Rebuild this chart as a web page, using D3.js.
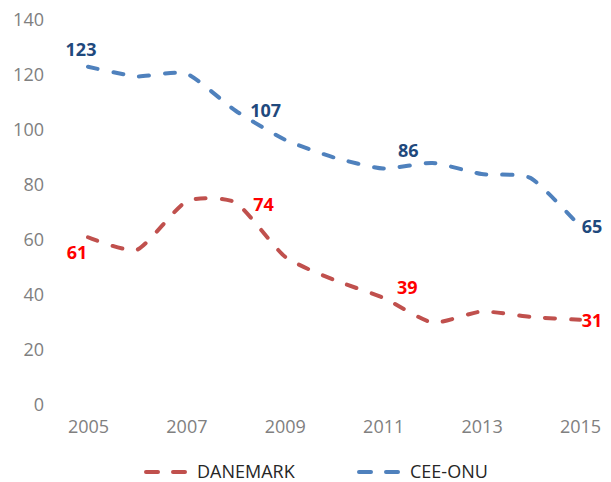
<!DOCTYPE html>
<html>
<head>
<meta charset="utf-8">
<script src="https://cdnjs.cloudflare.com/ajax/libs/d3/7.8.5/d3.min.js"></script>
<style>
  body { margin: 0; background: #fff; }
  svg { font-family: 'Open Sans', sans-serif; }
</style>
</head>
<body>
<div id="content"></div>
<script>
var years = [2005, 2006, 2007, 2008, 2009, 2010, 2011, 2012, 2013, 2014, 2015];
var danemark = [61, 56.5, 74, 73.6, 54, 45.5, 39, 30, 34, 32, 31];
var ceeOnu = [123, 119.5, 120.5, 107, 96.5, 90, 86, 88, 84, 82.5, 65];
var yTicks = [0, 20, 40, 60, 80, 100, 120, 140];
var xTicks = [2005, 2007, 2009, 2011, 2013, 2015];
var labelYears = [2005, 2008, 2011, 2015];

var svg = d3.select("#content").append("svg").attr("width", 611).attr("height", 482);

var x = d3.scaleLinear().domain([2005, 2015]).range([88, 580]),
    y = d3.scaleLinear().domain([0, 140]).range([405, 20]);

var series = [
    {name: "DANEMARK", values: danemark, color: "#C0504D", labelColor: "#FF0000",
     offsets: [[-11, 22], [28, 8], [24, -4], [12, 7]]},
    {name: "CEE-ONU", values: ceeOnu, color: "#4F81BD", labelColor: "#1F497D",
     offsets: [[-7, -11], [30, 6], [25, -12], [12, 7]]}
];

// axes (no lines, only labels)
var yAxis = svg.append("g")
    .attr("transform", "translate(52,0)")
    .call(d3.axisLeft(y).tickValues(yTicks).tickSize(0).tickPadding(8));
var xAxis = svg.append("g")
    .attr("transform", "translate(0,418)")
    .call(d3.axisBottom(x).tickValues(xTicks).tickFormat(d3.format("d")).tickSize(0).tickPadding(2));
svg.selectAll(".domain").remove();
svg.selectAll(".tick text")
    .attr("fill", "#808080")
    .style("font-size", "18px")
    .style("font-family", "'Open Sans', sans-serif");

var line = d3.line()
    .x(function(d, i) { return x(years[i]); })
    .y(function(d) { return y(d); })
    .curve(d3.curveCardinal.tension(0.4));

series.forEach(function(s) {
    svg.append("path")
        .datum(s.values)
        .attr("d", line)
        .attr("fill", "none")
        .attr("stroke", s.color)
        .attr("stroke-width", 4)
        .attr("stroke-linecap", "round")
        .attr("stroke-dasharray", "10,16");

    svg.selectAll(".lbl-" + s.name)
        .data(labelYears)
        .enter().append("text")
        .attr("x", function(d, i) { return x(d) + s.offsets[i][0]; })
        .attr("y", function(d, i) { return y(s.values[years.indexOf(d)]) + s.offsets[i][1]; })
        .attr("text-anchor", "middle")
        .attr("fill", s.labelColor)
        .style("font-size", "18px")
        .style("font-weight", "bold")
        .text(function(d) { return Math.round(s.values[years.indexOf(d)]); });
});

// legend
var legend = svg.selectAll(".legend")
    .data(series)
    .enter().append("g")
    .attr("class", "legend")
    .attr("transform", function(d, i) { return "translate(" + (145 + i * 213) + ",472)"; });

legend.append("line")
    .attr("x1", 1).attr("x2", 42)
    .attr("stroke", function(d) { return d.color; })
    .attr("stroke-width", 4)
    .attr("stroke-linecap", "round")
    .attr("stroke-dasharray", "12,15");

legend.append("text")
    .attr("x", 52)
    .attr("dy", "0.35em")
    .attr("fill", "#262626")
    .style("font-size", "18px")
    .text(function(d) { return d.name; });
</script>
</body>
</html>
